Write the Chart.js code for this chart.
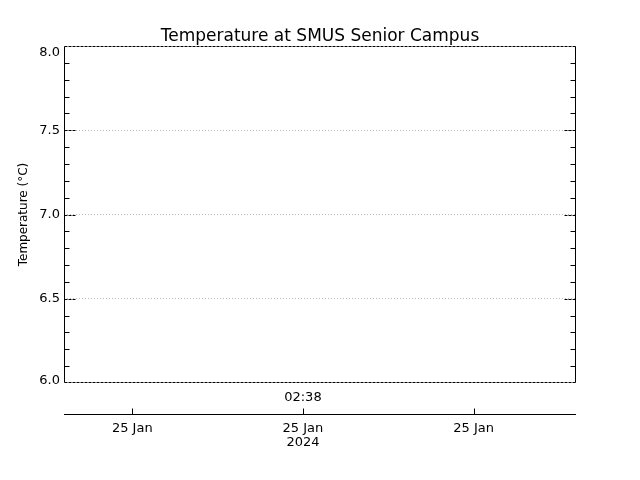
<!DOCTYPE html>
<html lang="en">
<head>
    <meta charset="UTF-8">
    <title>Temperature at SMUS Senior Campus</title>
    <script src="https://cdn.jsdelivr.net/npm/chart.js"></script>
    <style>
        body { margin: 0; background: #fff; }
        canvas { display: block; }
    </style>
</head>
<body>
    <canvas id="tempChart" width="640" height="480"></canvas>

    <script>
        // data (no readings in the shown window)
        const tempTimes = [];
        const tempValues = [];

        const yMin = 6.0;
        const yMax = 8.0;
        const xMin = -0.4;
        const xMax = 2.6;
        const xTickPos = [0, 1, 2];
        const dayLabels = ['25 Jan', '25 Jan', '25 Jan'];
        const yearLabels = ['', '2024', ''];
        const timeLabels = ['', '02:38', ''];

        Chart.defaults.font.family = 'DejaVu Sans';
        Chart.defaults.color = '#000';

        const isMajor = v => Math.round(v * 10) % 5 === 0;
        const isEdge = v => v <= yMin + 1e-6 || v >= yMax - 1e-6;

        // box, inward ticks and the detached time axis
        const frame = {
            id: 'frame',
            afterDraw(chart) {
                const { ctx, chartArea: a, scales } = chart;
                const y = scales.y, x = scales.x;
                ctx.save();
                ctx.strokeStyle = '#000';
                ctx.lineWidth = 1;
                const line = (x1, y1, x2, y2, dash) => {
                    ctx.setLineDash(dash || []);
                    ctx.beginPath();
                    ctx.moveTo(x1, y1);
                    ctx.lineTo(x2, y2);
                    ctx.stroke();
                };
                const L = Math.round(a.left) + 0.5, R = Math.round(a.right) - 0.5;
                const T = Math.round(a.top) + 0.5, B = Math.round(a.bottom) - 0.5;
                line(L, T, R, T, [3, 1]);
                line(L, B, R, B, [3, 1]);
                line(L, T, L, B);
                line(R, T, R, B);
                y.ticks.forEach(t => {
                    if (isEdge(t.value)) return;
                    const py = Math.round(y.getPixelForValue(t.value)) + 0.5;
                    const major = isMajor(t.value);
                    const len = major ? 12 : 5;
                    line(L, py, L + len, py, major ? [3, 1] : []);
                    line(R, py, R - len, py, major ? [3, 1] : []);
                });
                const ay = Math.round(x.top) + 0.5;
                line(x.left, ay, x.right, ay);
                x.ticks.forEach(t => {
                    const px = Math.round(x.getPixelForValue(t.value)) + 0.5;
                    line(px, ay, px, ay - 6);
                });
                ctx.restore();
            }
        };

        new Chart(document.getElementById('tempChart'), {
            type: 'line',
            data: {
                datasets: [{
                    label: 'Temperature',
                    data: tempTimes.map((t, i) => ({ x: t, y: tempValues[i] })),
                    borderColor: '#000',
                    borderWidth: 1,
                    pointRadius: 0,
                    xAxisID: 'x',
                    yAxisID: 'y'
                }]
            },
            options: {
                responsive: false,
                animation: false,
                devicePixelRatio: 1,
                layout: { padding: 0 },
                plugins: {
                    legend: { display: false },
                    tooltip: { enabled: false },
                    title: {
                        display: true,
                        text: 'Temperature at SMUS Senior Campus',
                        font: { size: 17, weight: 'normal', lineHeight: '18px' },
                        padding: { top: 28, bottom: 0 }
                    }
                },
                scales: {
                    y: {
                        min: yMin,
                        max: yMax,
                        afterFit: s => { s.width = 64; },
                        border: { display: false, dash: [1, 2] },
                        grid: {
                            drawTicks: false,
                            color: c => (isMajor(c.tick.value) && !isEdge(c.tick.value)) ? '#b8b8b8' : 'rgba(0,0,0,0)'
                        },
                        ticks: {
                            stepSize: 0.1,
                            autoSkip: false,
                            padding: 4,
                            font: c => {
                                let lh = 1.2;
                                if (c.tick && c.tick.value >= yMax - 1e-6) lh = '14px';
                                if (c.tick && c.tick.value <= yMin + 1e-6) lh = '4px';
                                return { size: 13, lineHeight: lh };
                            },
                            callback: v => {
                                if (!isMajor(v)) return '';
                                const s = v.toFixed(1);
                                if (v >= yMax - 1e-6) return ['', s];
                                if (v <= yMin + 1e-6) return [s, ''];
                                return s;
                            }
                        },
                        title: {
                            display: true,
                            text: 'Temperature (°C)',
                            font: { size: 12 },
                            padding: { top: 17, bottom: 0 }
                        }
                    },
                    yRight: {
                        position: 'right',
                        min: yMin,
                        max: yMax,
                        afterFit: s => { s.width = 64; },
                        border: { display: false },
                        grid: { display: false, drawTicks: false },
                        ticks: { display: false }
                    },
                    x2: {
                        type: 'linear',
                        position: 'bottom',
                        weight: 0,
                        min: xMin,
                        max: xMax,
                        afterFit: s => { s.height = 31; },
                        afterBuildTicks: s => { s.ticks = xTickPos.map(v => ({ value: v })); },
                        border: { display: false },
                        grid: { display: false, drawTicks: false },
                        ticks: {
                            autoSkip: false,
                            maxRotation: 0,
                            padding: 7,
                            font: { size: 13 },
                            callback: (v, i) => timeLabels[i]
                        }
                    },
                    x: {
                        type: 'linear',
                        position: 'bottom',
                        weight: 1,
                        min: xMin,
                        max: xMax,
                        afterFit: s => { s.height = 66; },
                        afterBuildTicks: s => { s.ticks = xTickPos.map(v => ({ value: v })); },
                        border: { display: false },
                        grid: { display: false, drawTicks: false },
                        ticks: {
                            autoSkip: false,
                            maxRotation: 0,
                            padding: 7,
                            font: { size: 13, lineHeight: 1.1 },
                            callback: (v, i) => yearLabels[i] ? [dayLabels[i], yearLabels[i]] : dayLabels[i]
                        }
                    }
                }
            },
            plugins: [frame]
        });
    </script>
</body>
</html>
